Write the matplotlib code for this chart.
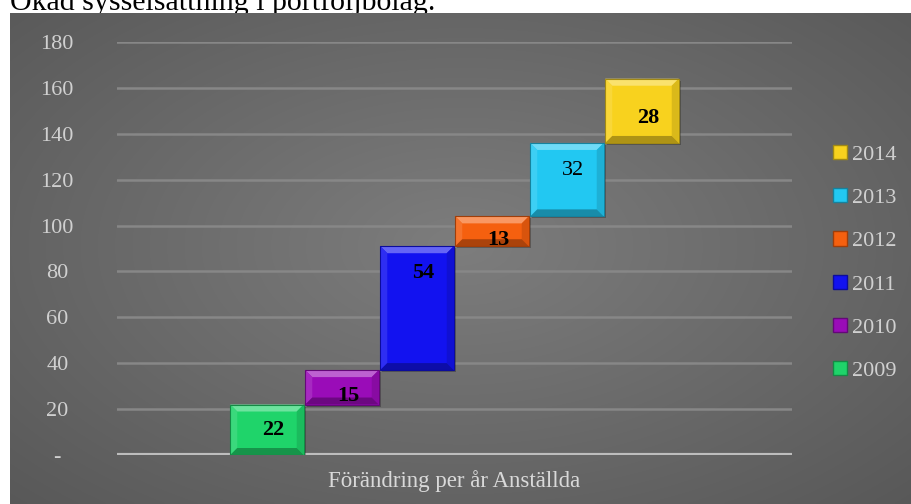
import numpy as np
import matplotlib
matplotlib.use("Agg")
import matplotlib.pyplot as plt
import matplotlib.colors as mcolors
from matplotlib.patches import Polygon, Rectangle, Patch

plt.rcParams['font.family'] = ['Liberation Serif', 'DejaVu Serif']

# data
years = ['2009', '2010', '2011', '2012', '2013', '2014']
changes = [22, 15, 54, 13, 32, 28]
bold_labels = [True, True, True, True, False, True]
category = 'Förändring per år Anställda'
title = 'Ökad sysselsättning i portföljbolag.'
yticks = [0, 20, 40, 60, 80, 100, 120, 140, 160, 180]
ytick_labels = ['-', '20', '40', '60', '80', '100', '120', '140', '160', '180']

colors = ['#1fd46a', '#9a0cb8', '#1212f0', '#f5600f', '#22c8f2', '#f8d21e']
# where the value label sits inside each bar (fraction of bar height)
label_frac = [0.5, 0.26, 0.78, 0.2, 0.63, 0.39]


def mix(c, other, t):
    c = np.array(mcolors.to_rgb(c))
    o = np.array(mcolors.to_rgb(other))
    return tuple(c * (1 - t) + o * t)


def bevel_bar(ax, x0, y0, x1, y1, color, dx, dy, z=3):
    # drop shadow
    ax.add_patch(Rectangle((x0 + dx * 0.3, y0 - dy * 0.3), x1 - x0, y1 - y0,
                           facecolor='black', alpha=0.25, lw=0, zorder=z - 0.5))
    ax.add_patch(Rectangle((x0, y0), x1 - x0, y1 - y0, facecolor=color, lw=0, zorder=z))
    ix0, ix1, iy0, iy1 = x0 + dx, x1 - dx, y0 + dy, y1 - dy
    top = [(x0, y1), (x1, y1), (ix1, iy1), (ix0, iy1)]
    bot = [(x0, y0), (x1, y0), (ix1, iy0), (ix0, iy0)]
    left = [(x0, y0), (x0, y1), (ix0, iy1), (ix0, iy0)]
    right = [(x1, y0), (x1, y1), (ix1, iy1), (ix1, iy0)]
    ax.add_patch(Polygon(top, closed=True, facecolor=mix(color, 'white', 0.35), lw=0, zorder=z + 0.1))
    ax.add_patch(Polygon(left, closed=True, facecolor=mix(color, 'white', 0.12), lw=0, zorder=z + 0.1))
    ax.add_patch(Polygon(right, closed=True, facecolor=mix(color, 'black', 0.12), lw=0, zorder=z + 0.1))
    ax.add_patch(Polygon(bot, closed=True, facecolor=mix(color, 'black', 0.3), lw=0, zorder=z + 0.1))
    ax.add_patch(Rectangle((x0, y0), x1 - x0, y1 - y0, facecolor='none',
                           edgecolor=mix(color, 'black', 0.35), lw=0.8, zorder=z + 0.2))


W, H = 912, 504
fig = plt.figure(figsize=(W / 100, H / 100), dpi=100)
fig.patch.set_facecolor('white')

# title, its lower part hidden behind the chart panel
fig.text(10 / W, 1 - 10 / H, title, fontsize=21.5, color='black', ha='left', va='baseline', zorder=-5)

# gray radial gradient panel
bg = fig.add_axes([10 / W, 0, 1 - 10 / W, 1 - 13 / H], zorder=0)
gx, gy = np.meshgrid(np.linspace(-1, 1, 400), np.linspace(-1, 1, 220))
r = np.sqrt((gx * 0.95) ** 2 + ((gy + 0.05) * 0.9) ** 2)
shade = 0.49 - 0.15 * np.clip(r, 0, 1.4) / 1.4
bg.imshow(np.dstack([shade] * 3), aspect='auto', extent=[0, 1, 0, 1], interpolation='bilinear')
bg.set_axis_off()

ax = fig.add_axes([117 / W, 1 - 455 / H, 675 / W, 413 / H], zorder=1)
ax.patch.set_alpha(0)
ax.set_xlim(-2, 7)
ax.set_ylim(0, 180)
for s in ax.spines.values():
    s.set_visible(False)
ax.set_yticks(yticks)
ax.set_yticklabels(ytick_labels)
ax.tick_params(axis='y', length=0, pad=43, labelsize=16, labelcolor='#d0d0d0')
for lab in ax.get_yticklabels():
    lab.set_horizontalalignment('center')
ax.set_xticks([])
for t in yticks[1:]:
    ax.axhline(t, color='#878787', lw=1.8, zorder=1)
ax.axhline(0, color='#bdbdbd', lw=3, zorder=2)

ax.text(2.5, -11.5, category, fontsize=16.5, color='#d9d9d9', ha='center', va='center')

dx = 7 / 75.0
dy = 7 / (413 / 180.0)
bottom = 0
handles = []
for i, (v, c) in enumerate(zip(changes, colors)):
    bevel_bar(ax, i - 0.49, bottom, i + 0.49, bottom + v, c, dx, dy)
    ax.text(i + 0.08, bottom + v * label_frac[i], str(v), fontsize=16,
            fontweight='bold' if bold_labels[i] else 'normal',
            color='black', ha='center', va='center', zorder=6)
    handles.append(Patch(facecolor=c, edgecolor=mix(c, 'black', 0.35), label=years[i]))
    bottom += v

leg = ax.legend(handles=handles[::-1], loc='center left', bbox_to_anchor=(1.061, 0.465),
                frameon=False, fontsize=16, labelcolor='#d0d0d0', handlelength=0.6,
                handleheight=0.6, handletextpad=0.25, labelspacing=1.05,
                borderpad=0, borderaxespad=0)

fig.savefig('out.png', dpi=100)
